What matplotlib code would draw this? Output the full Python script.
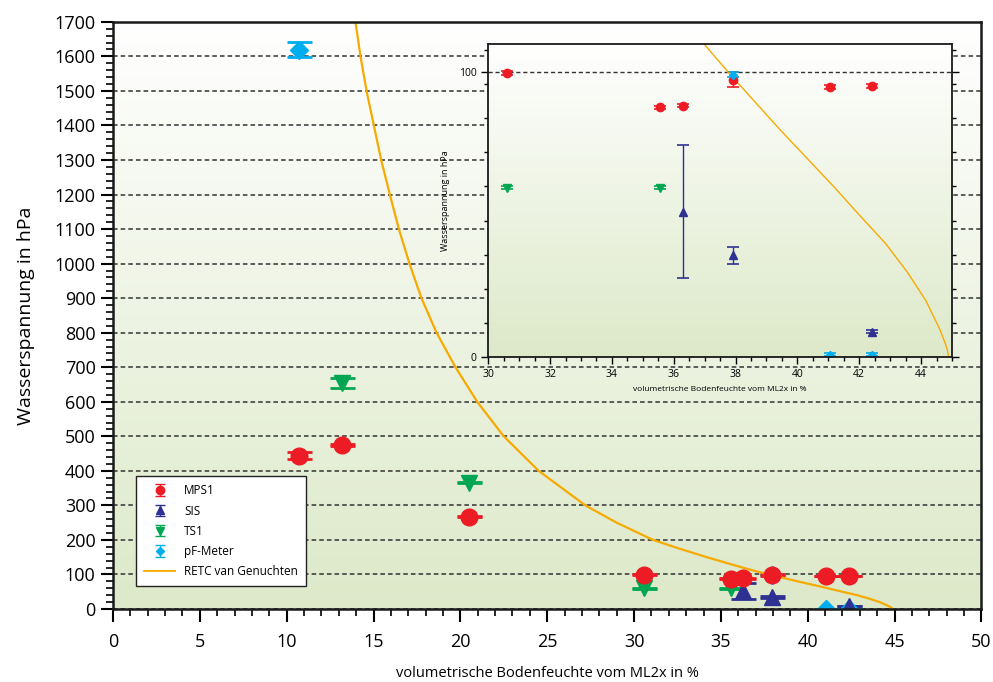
import numpy as np
import matplotlib
matplotlib.use("Agg")
import matplotlib.pyplot as plt
from matplotlib.colors import LinearSegmentedColormap
from matplotlib.ticker import MultipleLocator, FixedLocator

plt.rcParams['font.family'] = ['Open Sans', 'DejaVu Sans']

mps1_x = [10.7, 13.2, 20.5, 30.6, 35.57, 36.3, 37.93, 41.06, 42.4]
mps1_y = [444, 476, 267, 99.8, 87.8, 88.4, 97.4, 94.9, 95.2]
mps1_err = [10, 3, 2, 0.6, 0.6, 0.6, 2.6, 0.6, 0.6]

sis_x = [36.3, 37.93, 42.4]
sis_y = [51.2, 35.9, 9.0]
sis_err = [23.5, 3.0, 0.5]

ts1_x = [13.2, 20.5, 30.6, 35.57]
ts1_y = [655, 366, 59.6, 59.6]
ts1_err = [15, 2, 0.5, 0.5]

pf_x = [10.7, 37.93, 41.06, 42.4]
pf_y = [1619, 99.2, 1.0, 1.0]
pf_err = [22, 0.8, 0.5, 0.5]

# RETC van Genuchten
retc_h = [1700, 1600, 1500, 1400, 1300, 1200, 1100, 1000, 900, 800, 700, 600,
          500, 400, 300, 250, 200, 175, 150, 125, 110, 100, 90, 80, 70, 60,
          50, 40, 30, 20, 10, 5, 3, 1, 0]
retc_theta = [13.96, 14.25, 14.6, 15.02, 15.44, 15.94, 16.46, 17.07, 17.76,
              18.63, 19.72, 20.97, 22.5, 24.51, 27.2, 29.0, 31.1, 32.6, 34.2,
              35.9, 36.98, 37.77, 38.6, 39.43, 40.3, 41.17, 42.0, 42.85, 43.55,
              44.15, 44.6, 44.78, 44.84, 44.88, 44.9]

names = ['MPS1', 'SIS', 'TS1', 'pF-Meter']

c_mps = '#ed1c24'
c_sis = '#2e3192'
c_ts = '#00a651'
c_pf = '#00aeef'
c_retc = '#f7aa00'


def add_gradient(a):
    cmap = LinearSegmentedColormap.from_list('bg', ['#dde9c9', '#ffffff'])
    grad = np.linspace(0, 1, 256).reshape(-1, 1)
    a.imshow(grad, extent=[0, 1, 0, 1], transform=a.transAxes, origin='lower',
             aspect='auto', cmap=cmap, zorder=-10)


fig = plt.figure(figsize=(9.93, 6.82), dpi=100)
ax = fig.add_axes([0.1138, 0.107, 0.8745, 0.861])
add_gradient(ax)

series = [(mps1_x, mps1_y, mps1_err, 'o', 12, c_mps),
          (sis_x, sis_y, sis_err, '^', 12, c_sis),
          (ts1_x, ts1_y, ts1_err, 'v', 12, c_ts),
          (pf_x, pf_y, pf_err, 'D', 9, c_pf)]

# Zeichenreihenfolge im Hauptdiagramm: pF unten, MPS1 oben
big = dict(capthick=2, elinewidth=1.5, linestyle='none', capsize=9)
for x, y, e, m, ms, c in series[::-1]:
    ax.errorbar(x, y, yerr=e, marker=m, ms=ms, color=c, **big)
ax.plot(retc_theta, retc_h, color=c_retc, lw=1.6)

# Legendeneintraege (kleinere Symbole wie im Original)
handles = []
for (x, y, e, m, ms, c), name in zip(series, names):
    h = ax.errorbar([np.nan], [np.nan], yerr=[1], marker=m, ms=ms * 0.5,
                    color=c, capsize=3.5, capthick=1.0, elinewidth=1.0,
                    linestyle='none', label=name)
    handles.append(h)
ln, = ax.plot([np.nan], [np.nan], color=c_retc, lw=1.3, label='RETC van Genuchten')
handles.append(ln)

ax.set_xlim(0, 50)
ax.set_ylim(0, 1700)
ax.xaxis.set_major_locator(MultipleLocator(5))
ax.xaxis.set_minor_locator(MultipleLocator(1))
ax.yaxis.set_major_locator(MultipleLocator(100))
ax.yaxis.set_minor_locator(MultipleLocator(20))
ax.tick_params(which='major', direction='out', length=9, width=1.5, labelsize=13)
ax.tick_params(which='minor', direction='out', length=5, width=1.2)
ax.tick_params(axis='x', pad=8)
ax.grid(axis='y', which='major', color='#333333', linestyle=(0, (3, 2)), lw=1.1)
for s in ax.spines.values():
    s.set_linewidth(1.8)
    s.set_color('#1a1a1a')
ax.set_xlabel('volumetrische Bodenfeuchte vom ML2x in %', fontsize=10.5, labelpad=11)
ax.set_ylabel('Wasserspannung in hPa', fontsize=14, labelpad=14)

leg = ax.legend(handles=handles, loc='lower left', bbox_to_anchor=(0.0196, 0.029),
                fontsize=8.5, frameon=True, fancybox=False, edgecolor='#222222',
                framealpha=1, borderpad=0.7, labelspacing=0.6,
                handlelength=2.6, handletextpad=0.8)
leg.get_frame().set_linewidth(1.0)

# Inset
axi = fig.add_axes([0.4917, 0.476, 0.467, 0.4595])
add_gradient(axi)
small = dict(capthick=1.2, elinewidth=1.0, linestyle='none', capsize=4)
for x, y, e, m, ms, c in series:
    axi.errorbar(x, y, yerr=e, marker=m, ms=ms * 0.5, color=c, **small)
axi.plot(retc_theta, retc_h, color=c_retc, lw=1.0)
axi.set_xlim(30, 45)
axi.set_ylim(0, 110)
axi.xaxis.set_major_locator(MultipleLocator(2))
axi.xaxis.set_minor_locator(MultipleLocator(0.5))
axi.yaxis.set_major_locator(FixedLocator([0, 100]))
axi.yaxis.set_minor_locator(MultipleLocator(12))
axi.tick_params(which='major', direction='out', length=5, width=1.0, labelsize=7.5,
                right=True)
axi.tick_params(which='minor', direction='out', length=3, width=1.0, right=True)
axi.grid(axis='y', which='major', color='#333333', linestyle=(0, (3, 2)), lw=1.0)
for s in axi.spines.values():
    s.set_linewidth(1.3)
    s.set_color('#1a1a1a')
axi.set_xlabel('volumetrische Bodenfeuchte vom ML2x in %', fontsize=6, labelpad=4)
axi.set_ylabel('Wasserspannung in hPa', fontsize=6.5, labelpad=6)

fig.savefig('out.png', dpi=100)
